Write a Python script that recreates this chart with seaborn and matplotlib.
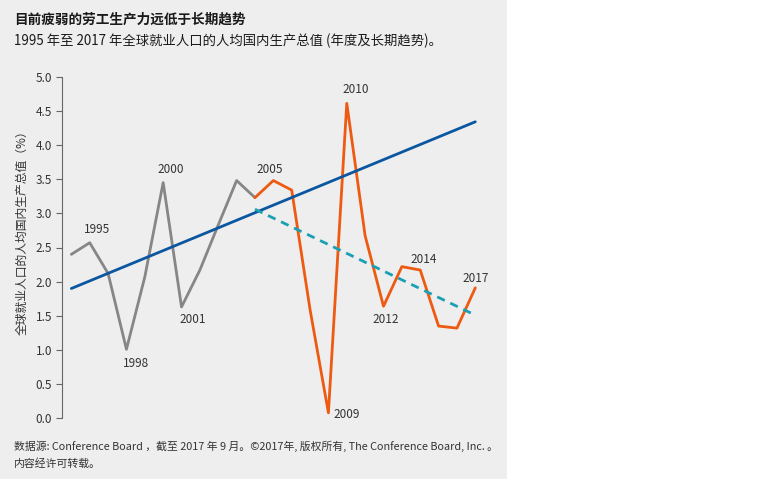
import pandas as pd
import matplotlib
matplotlib.use("Agg")
import matplotlib.pyplot as plt
from matplotlib.patches import Rectangle
import seaborn as sns

# annual GDP per person employed, world (%)
years_early = [1995, 1996, 1997, 1998, 1999, 2000, 2001, 2002, 2003, 2004, 2005]
growth_early = [2.40, 2.57, 2.12, 1.01, 2.07, 3.45, 1.63, 2.17, 2.83, 3.48, 3.23]
years_late = [2005, 2006, 2007, 2008, 2009, 2010, 2011, 2012, 2013, 2014, 2015, 2016, 2017]
growth_late = [3.23, 3.48, 3.34, 1.59, 0.08, 4.61, 2.67, 1.64, 2.22, 2.17, 1.35, 1.32, 1.91]
trend_long_years = [1995, 2017]
trend_long = [1.90, 4.34]
trend_recent_years = [2005, 2017]
trend_recent = [3.06, 1.51]

# year labels: (text, x, y)
year_labels = ["1995", "1998", "2000", "2001", "2005", "2009", "2010", "2012", "2014", "2017"]
label_x = [1996.4, 1998.5, 2000.4, 2001.6, 2005.8, 2010.0, 2010.5, 2012.1, 2014.2, 2017.0]
label_y = [2.76, 0.80, 3.64, 1.44, 3.64, 0.06, 4.81, 1.44, 2.33, 2.04]

sns.set_theme(style="white")
plt.rcParams['font.family'] = ['Noto Sans CJK SC', 'DejaVu Sans']

fig = plt.figure(figsize=(7.6, 4.79), dpi=100)
fig.patches.append(Rectangle((0, 0), 507 / 760, 1, transform=fig.transFigure,
                             facecolor="#edeeed", edgecolor="none", zorder=-10))

ax = fig.add_axes([62 / 760, 60.7 / 479, 428 / 760, 341.6 / 479])
ax.set_facecolor("none")

df_early = pd.DataFrame({"year": years_early, "val": growth_early})
df_late = pd.DataFrame({"year": years_late, "val": growth_late})
df_t1 = pd.DataFrame({"year": trend_long_years, "val": trend_long})
df_t2 = pd.DataFrame({"year": trend_recent_years, "val": trend_recent})

sns.lineplot(data=df_early, x="year", y="val", ax=ax, color="#868686", linewidth=2.0)
sns.lineplot(data=df_late, x="year", y="val", ax=ax, color="#ee5a12", linewidth=2.0)
sns.lineplot(data=df_t1, x="year", y="val", ax=ax, color="#0b56a0", linewidth=2.0)
sns.lineplot(data=df_t2, x="year", y="val", ax=ax, color="#1a9fb5", linewidth=2.0,
             linestyle=(0, (3, 2.2)))

for t, x, y in zip(year_labels, label_x, label_y):
    ax.text(x, y, t, ha="center", va="center", fontsize=8.5, color="#333333")

ax.set_xlim(1994.49, 2017.80)
ax.set_ylim(0, 5)
ax.set_yticks([0, 0.5, 1, 1.5, 2, 2.5, 3, 3.5, 4, 4.5, 5])
ax.set_yticklabels([f"{v:.1f}" for v in ax.get_yticks()], fontsize=8.5, color="#333333")
ax.set_xticks([])
ax.set_xlabel("")
ax.set_ylabel("全球就业人口的人均国内生产总值（%）", fontsize=8.5, color="#333333")
ax.yaxis.set_label_coords(-0.077, 0.553)
ax.tick_params(axis="y", left=True, length=4, width=0.8, color="#666666", pad=3)
for s in ["top", "right", "bottom"]:
    ax.spines[s].set_visible(False)
ax.spines["left"].set_color("#666666")
ax.spines["left"].set_linewidth(0.8)
for line in ax.lines:
    line.set_clip_on(False)

fig.text(14 / 760, 1 - 20 / 479, "目前疲弱的劳工生产力远低于长期趋势", fontsize=9.8,
         fontweight="bold", color="#1a1a1a", va="center")
fig.text(14 / 760, 1 - 41 / 479, "1995 年至 2017 年全球就业人口的人均国内生产总值 (年度及长期趋势)。",
         fontsize=9.6, color="#1a1a1a", va="center")
fig.text(14 / 760, 1 - 446 / 479,
         "数据源: Conference Board ，截至 2017 年 9 月。©2017年, 版权所有, The Conference Board, Inc. 。",
         fontsize=7.8, color="#333333", va="center")
fig.text(14 / 760, 1 - 464 / 479, "内容经许可转载。", fontsize=7.8, color="#333333", va="center")

fig.savefig("out.png", dpi=100, facecolor="white")
